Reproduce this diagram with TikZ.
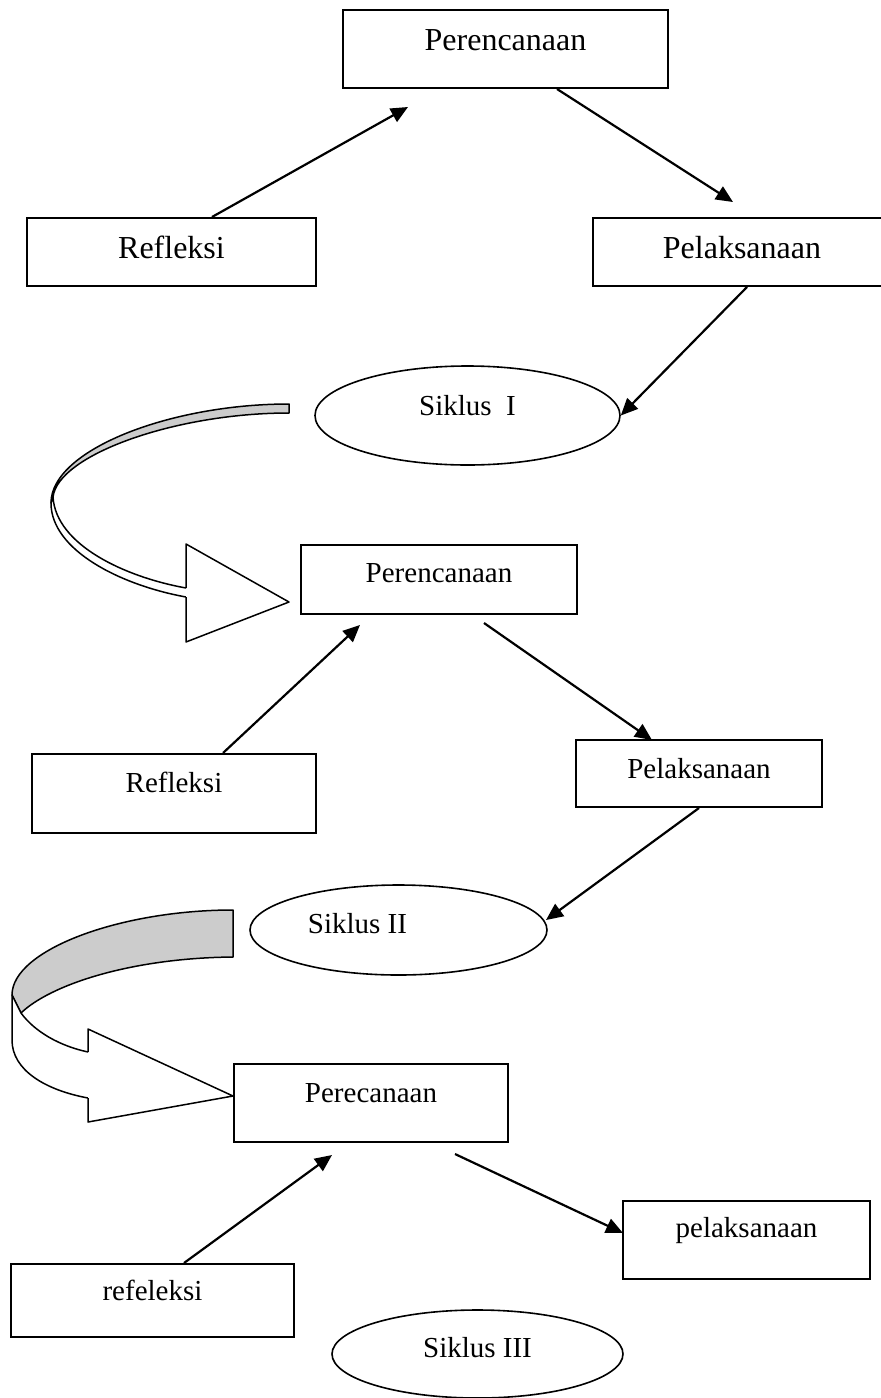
\documentclass[tikz,border=0pt]{standalone}
\usepackage{fontspec}
\setmainfont{Liberation Serif}
\usetikzlibrary{calc,arrows.meta,shapes.geometric}
\definecolor{abu}{gray}{0.8}
\tikzset{
  kotak/.style={draw, rectangle, line width=1pt, inner sep=0pt},
  bulat/.style={draw, ellipse, line width=0.8pt, inner sep=0pt},
  besar/.style={font=\fontsize{16}{19}\selectfont},
  biasa/.style={font=\fontsize{14.5}{17}\selectfont},
  panah/.style={line width=1.1pt, -{Triangle[length=8.5pt,width=7.5pt]}},
  pita/.style={line width=0.75pt, line join=round},
}
\begin{document}
\begin{tikzpicture}  % ------ siklus I, II, III -------------------
      [x=0.5pt,y=-0.5pt]
    \clip (0,0) rectangle (881,1398);
% siklus I
    \node[kotak,besar,minimum width=162.5pt,text height=20pt,text depth=19pt] (Ren1) at (505.5,49) {Perencanaan};
    \node[kotak,besar,minimum width=144.5pt,text height=20pt,text depth=14pt] (Ref1) at (171.5,252) {Refleksi};
    \node[kotak,besar,minimum width=149pt,text height=20pt,text depth=14pt] (Pel1) at (742,252) {Pelaksanaan};
    \node[bulat,biasa,minimum width=152.5pt,minimum height=49.5pt,text height=10pt,text depth=10pt] (Sik1) at (467.5,415.5) {Siklus\ \ I};
    \coordinate (T1) at (408,107);
    \coordinate (T2) at (733,202);
    \draw[panah] ($(Ref1.north)+(40.5,0)$) -- (T1);
    \draw[panah] ($(Ren1.south)+(51.5,0)$) -- (T2);
    \draw[panah] ($(Pel1.south)+(5,0)$) -- (Sik1.east);
% panah lengkung 1
    \filldraw[pita,fill=abu] (289,404) .. controls (170,404) and (51,450) .. (51,503)
        -- (53,497) .. controls (58,455) and (175,413) .. (289,413) -- cycle;
    \filldraw[pita,fill=white] (186,597) .. controls (120,585) and (51,550) .. (51,503)
        -- (53,497) .. controls (56,545) and (125,577) .. (186,588);
    \filldraw[pita,fill=white] (186,588) -- (186,544) -- (289,602) -- (186,642) -- (186,597);
% siklus II
    \node[kotak,biasa,minimum width=138pt,text height=18.5pt,text depth=16pt] (Ren2) at (439,579.5) {Perencanaan};
    \node[kotak,biasa,minimum width=142pt,text height=19pt,text depth=20.5pt] (Ref2) at (174,793.5) {Refleksi};
    \node[kotak,biasa,minimum width=123pt,text height=19pt,text depth=14.5pt] (Pel2) at (699,773.5) {Pelaksanaan};
    \node[bulat,biasa,minimum width=148.5pt,minimum height=45pt,text height=11.5pt,text depth=8.5pt] (Sik2) at (398.5,930) {Siklus II\hspace*{41pt}};
    \coordinate (T3) at (360,625);
    \coordinate (S4) at (484,623);
    \coordinate (T4) at (652,740);
    \coordinate (T5) at (546,920);
    \draw[panah] ($(Ref2.north)+(49,0)$) -- (T3);
    \draw[panah] (S4) -- (T4);
    \draw[panah] (Pel2.south) -- (T5);
% panah lengkung 2
    \filldraw[pita,fill=abu] (233,910) .. controls (120,910) and (12,950) .. (12,995)
        -- (21,1013) .. controls (50,985) and (130,958) .. (233,957) -- cycle;
    \filldraw[pita,fill=white] (88,1098) .. controls (45,1090) and (12,1070) .. (12,1040)
        -- (12,995) -- (21,1013) .. controls (35,1032) and (60,1046) .. (88,1052);
    \filldraw[pita,fill=white] (88,1052) -- (88,1029) -- (233,1096) -- (88,1122) -- (88,1098);
% siklus III
    \node[kotak,biasa,minimum width=137pt,text height=19pt,text depth=20pt] (Ren3) at (371,1103) {Perecanaan};
    \node[kotak,biasa,minimum width=141.5pt,text height=18pt,text depth=18.5pt] (Ref3) at (152.5,1300.5) {refeleksi};
    \node[kotak,biasa,minimum width=123.5pt,text height=18pt,text depth=21pt] (Pel3) at (746.5,1240) {pelaksanaan};
    \node[bulat,biasa,minimum width=145.5pt,minimum height=44pt,text height=11.5pt,text depth=8.5pt] (Sik3) at (477.5,1354) {Siklus III};
    \coordinate (T6) at (332,1155);
    \coordinate (S7) at (455,1154);
    \coordinate (T7) at (623,1233);
    \draw[panah] ($(Ref3.north)+(31.5,0)$) -- (T6);
    \draw[panah] (S7) -- (T7);
\end{tikzpicture}
\end{document}
